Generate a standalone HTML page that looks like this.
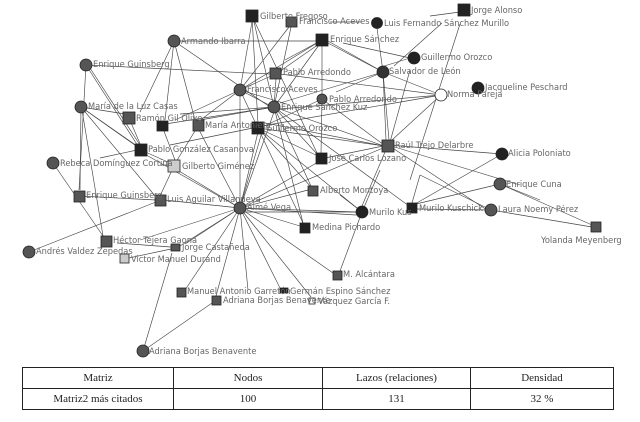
<!DOCTYPE html>
<html><head><meta charset="utf-8"><style>
body{margin:0;background:#fff;width:640px;height:422px;overflow:hidden}
svg{position:absolute;left:0;top:0}
text{font-family:"DejaVu Sans Condensed","Liberation Sans",sans-serif;font-size:9.2px;fill:#666}
table{position:absolute;left:22px;top:367px;width:592px;border-collapse:collapse;font-family:"Liberation Serif",serif;font-size:11px;color:#222}
td{border:1px solid #222;text-align:center;height:20px;padding:0}
</style></head><body>
<svg width="640" height="360" viewBox="0 0 640 360">
<g stroke="#444" stroke-width="0.65" fill="none">
<line x1="174" y1="41" x2="316" y2="41"/>
<line x1="174" y1="41" x2="140" y2="112"/>
<line x1="174" y1="41" x2="165" y2="120"/>
<line x1="174" y1="41" x2="195" y2="120"/>
<line x1="174" y1="41" x2="270" y2="107"/>
<line x1="86" y1="65" x2="270" y2="74"/>
<line x1="86" y1="65" x2="138" y2="146"/>
<line x1="86" y1="65" x2="79" y2="190"/>
<line x1="90" y1="68" x2="140" y2="145"/>
<line x1="81" y1="107" x2="137" y2="146"/>
<line x1="81" y1="107" x2="139" y2="148"/>
<line x1="81" y1="107" x2="125" y2="114"/>
<line x1="81" y1="107" x2="156" y2="197"/>
<line x1="81" y1="107" x2="80" y2="190"/>
<line x1="82" y1="110" x2="103" y2="236"/>
<line x1="53" y1="163" x2="103" y2="236"/>
<line x1="100" y1="158" x2="137" y2="150"/>
<line x1="160" y1="165" x2="170" y2="165"/>
<line x1="141" y1="150" x2="170" y2="163"/>
<line x1="129" y1="118" x2="141" y2="146"/>
<line x1="162" y1="126" x2="175" y2="160"/>
<line x1="198" y1="126" x2="176" y2="162"/>
<line x1="174" y1="166" x2="160" y2="196"/>
<line x1="170" y1="145" x2="253" y2="128"/>
<line x1="79" y1="196" x2="156" y2="200"/>
<line x1="29" y1="252" x2="156" y2="202"/>
<line x1="117" y1="243" x2="171" y2="247"/>
<line x1="124" y1="259" x2="171" y2="249"/>
<line x1="240" y1="208" x2="164" y2="200"/>
<line x1="240" y1="208" x2="174" y2="168"/>
<line x1="240" y1="208" x2="141" y2="152"/>
<line x1="240" y1="208" x2="198" y2="128"/>
<line x1="240" y1="208" x2="258" y2="132"/>
<line x1="240" y1="208" x2="262" y2="132"/>
<line x1="240" y1="208" x2="240" y2="95"/>
<line x1="240" y1="208" x2="274" y2="112"/>
<line x1="240" y1="208" x2="140" y2="240"/>
<line x1="240" y1="208" x2="180" y2="246"/>
<line x1="240" y1="208" x2="185" y2="244"/>
<line x1="240" y1="208" x2="185" y2="290"/>
<line x1="240" y1="208" x2="216" y2="296"/>
<line x1="240" y1="208" x2="248" y2="290"/>
<line x1="240" y1="208" x2="280" y2="288"/>
<line x1="240" y1="208" x2="311" y2="297"/>
<line x1="240" y1="208" x2="300" y2="226"/>
<line x1="240" y1="208" x2="308" y2="190"/>
<line x1="240" y1="208" x2="318" y2="162"/>
<line x1="240" y1="208" x2="383" y2="148"/>
<line x1="240" y1="208" x2="357" y2="212"/>
<line x1="240" y1="208" x2="333" y2="273"/>
<line x1="240" y1="208" x2="356" y2="215"/>
<line x1="143" y1="351" x2="212" y2="303"/>
<line x1="143" y1="351" x2="172" y2="253"/>
<line x1="240" y1="90" x2="252" y2="22"/>
<line x1="240" y1="90" x2="289" y2="27"/>
<line x1="240" y1="90" x2="317" y2="43"/>
<line x1="240" y1="90" x2="271" y2="76"/>
<line x1="240" y1="90" x2="271" y2="106"/>
<line x1="240" y1="90" x2="198" y2="122"/>
<line x1="240" y1="90" x2="175" y2="120"/>
<line x1="240" y1="90" x2="256" y2="124"/>
<line x1="240" y1="90" x2="290" y2="105"/>
<line x1="274" y1="107" x2="254" y2="22"/>
<line x1="274" y1="107" x2="291" y2="27"/>
<line x1="274" y1="107" x2="319" y2="45"/>
<line x1="274" y1="107" x2="276" y2="79"/>
<line x1="274" y1="107" x2="318" y2="155"/>
<line x1="274" y1="107" x2="384" y2="146"/>
<line x1="274" y1="107" x2="311" y2="186"/>
<line x1="274" y1="107" x2="303" y2="223"/>
<line x1="274" y1="107" x2="409" y2="206"/>
<line x1="274" y1="107" x2="180" y2="114"/>
<line x1="274" y1="107" x2="200" y2="120"/>
<line x1="274" y1="107" x2="165" y2="124"/>
<line x1="252" y1="16" x2="258" y2="124"/>
<line x1="252" y1="16" x2="318" y2="155"/>
<line x1="258" y1="128" x2="384" y2="146"/>
<line x1="258" y1="128" x2="318" y2="156"/>
<line x1="258" y1="128" x2="303" y2="223"/>
<line x1="258" y1="128" x2="311" y2="187"/>
<line x1="258" y1="128" x2="362" y2="212"/>
<line x1="285" y1="60" x2="322" y2="40"/>
<line x1="276" y1="74" x2="319" y2="44"/>
<line x1="322" y1="99" x2="322" y2="45"/>
<line x1="322" y1="99" x2="321" y2="154"/>
<line x1="322" y1="99" x2="260" y2="128"/>
<line x1="322" y1="99" x2="384" y2="145"/>
<line x1="280" y1="74" x2="441" y2="95"/>
<line x1="383" y1="72" x2="326" y2="42"/>
<line x1="383" y1="72" x2="328" y2="41"/>
<line x1="383" y1="72" x2="386" y2="140"/>
<line x1="383" y1="72" x2="389" y2="140"/>
<line x1="383" y1="72" x2="436" y2="93"/>
<line x1="383" y1="72" x2="336" y2="92"/>
<line x1="383" y1="72" x2="280" y2="103"/>
<line x1="383" y1="72" x2="377" y2="28"/>
<line x1="378" y1="68" x2="410" y2="58"/>
<line x1="343" y1="43" x2="410" y2="58"/>
<line x1="394" y1="66" x2="442" y2="23"/>
<line x1="410" y1="70" x2="390" y2="142"/>
<line x1="361" y1="22" x2="330" y2="22"/>
<line x1="460" y1="12" x2="430" y2="16"/>
<line x1="460" y1="24" x2="410" y2="180"/>
<line x1="441" y1="95" x2="280" y2="109"/>
<line x1="441" y1="95" x2="392" y2="140"/>
<line x1="441" y1="95" x2="262" y2="126"/>
<line x1="388" y1="145" x2="502" y2="154"/>
<line x1="388" y1="145" x2="487" y2="210"/>
<line x1="388" y1="145" x2="520" y2="185"/>
<line x1="388" y1="145" x2="362" y2="206"/>
<line x1="388" y1="145" x2="325" y2="158"/>
<line x1="260" y1="122" x2="384" y2="146"/>
<line x1="502" y1="154" x2="415" y2="204"/>
<line x1="500" y1="184" x2="416" y2="204"/>
<line x1="500" y1="184" x2="540" y2="200"/>
<line x1="500" y1="184" x2="592" y2="225"/>
<line x1="491" y1="210" x2="592" y2="227"/>
<line x1="491" y1="210" x2="416" y2="209"/>
<line x1="420" y1="175" x2="412" y2="203"/>
<line x1="420" y1="175" x2="491" y2="210"/>
<line x1="362" y1="212" x2="340" y2="271"/>
<line x1="362" y1="212" x2="340" y2="195"/>
<line x1="362" y1="212" x2="380" y2="170"/>
<line x1="242" y1="212" x2="362" y2="212"/>
</g>
<g stroke="#222" stroke-width="0.8">
<rect x="246" y="10" width="12" height="12" fill="#222"/>
<rect x="286" y="17" width="11" height="10" fill="#555"/>
<circle cx="377" cy="23" r="5.5" fill="#222"/>
<rect x="458" y="4" width="12" height="12" fill="#222"/>
<rect x="316" y="34" width="12" height="12" fill="#222"/>
<circle cx="174" cy="41" r="6" fill="#555"/>
<circle cx="414" cy="58" r="6" fill="#222"/>
<circle cx="86" cy="65" r="6" fill="#555"/>
<rect x="270" y="68" width="11" height="11" fill="#555"/>
<circle cx="383" cy="72" r="6" fill="#333"/>
<circle cx="478" cy="88" r="6" fill="#222"/>
<circle cx="441" cy="95" r="6" fill="#fff"/>
<circle cx="240" cy="90" r="6" fill="#555"/>
<circle cx="322" cy="99" r="5" fill="#555"/>
<circle cx="81" cy="107" r="6" fill="#555"/>
<circle cx="274" cy="107" r="6" fill="#555"/>
<rect x="123" y="112" width="12" height="12" fill="#555"/>
<rect x="157" y="121" width="11" height="10" fill="#222"/>
<rect x="193" y="120" width="11" height="11" fill="#555"/>
<rect x="252" y="122" width="12" height="12" fill="#222"/>
<rect x="135" y="144" width="12" height="12" fill="#222"/>
<rect x="382" y="140" width="12" height="12" fill="#555"/>
<circle cx="502" cy="154" r="6" fill="#222"/>
<circle cx="53" cy="163" r="6" fill="#555"/>
<rect x="168" y="160" width="12" height="12" fill="#ccc"/>
<rect x="316" y="153" width="11" height="11" fill="#222"/>
<circle cx="500" cy="184" r="6" fill="#555"/>
<rect x="308" y="186" width="10" height="10" fill="#555"/>
<rect x="74" y="191" width="11" height="11" fill="#555"/>
<rect x="155" y="195" width="11" height="11" fill="#555"/>
<circle cx="240" cy="208" r="6" fill="#555"/>
<circle cx="362" cy="212" r="6" fill="#222"/>
<rect x="407" y="203" width="10" height="10" fill="#222"/>
<circle cx="491" cy="210" r="6" fill="#555"/>
<rect x="591" y="222" width="10" height="10" fill="#555"/>
<rect x="300" y="223" width="10" height="10" fill="#222"/>
<rect x="101" y="236" width="11" height="11" fill="#555"/>
<circle cx="29" cy="252" r="6" fill="#555"/>
<rect x="171" y="244" width="9" height="7" fill="#555"/>
<rect x="120" y="254" width="9" height="9" fill="#ccc"/>
<rect x="333" y="271" width="9" height="9" fill="#555"/>
<rect x="177" y="288" width="9" height="9" fill="#555"/>
<rect x="280" y="288" width="8" height="5" fill="#222"/>
<rect x="212" y="296" width="9" height="9" fill="#555"/>
<rect x="309" y="298" width="6" height="6" fill="#fff"/>
<circle cx="143" cy="351" r="6" fill="#555"/>
</g>
<g>
<text x="260" y="19">Gilberto Fregoso</text>
<text x="299" y="24">Francisco Aceves</text>
<text x="384" y="26">Luis Fernando Sánchez Murillo</text>
<text x="471" y="13">Jorge Alonso</text>
<text x="330" y="42">Enrique Sánchez</text>
<text x="181" y="44">Armando Ibarra</text>
<text x="421" y="60">Guillermo Orozco</text>
<text x="93" y="67">Enrique Guinsberg</text>
<text x="283" y="75">Pablo Arredondo</text>
<text x="389" y="74">Salvador de León</text>
<text x="485" y="90">Jacqueline Peschard</text>
<text x="447" y="97">Norma Pareja</text>
<text x="247" y="92">Francisco Aceves</text>
<text x="329" y="102">Pablo Arredondo</text>
<text x="88" y="109">María de la Luz Casas</text>
<text x="281" y="110">Enrique Sánchez Kuz</text>
<text x="136" y="121">Ramón Gil Olivo</text>
<text x="205" y="128">María Antonieta</text>
<text x="266" y="131">Guillermo Orozco</text>
<text x="148" y="152">Pablo González Casanova</text>
<text x="395" y="148">Raúl Trejo Delarbre</text>
<text x="508" y="156">Alicia Poloniato</text>
<text x="60" y="166">Rebeca Domínguez Cortina</text>
<text x="182" y="169">Gilberto Giménez</text>
<text x="329" y="161">José Carlos Lozano</text>
<text x="506" y="187">Enrique Cuna</text>
<text x="320" y="193">Alberto Montoya</text>
<text x="86" y="198">Enrique Guinsberg</text>
<text x="167" y="202">Luis Aguilar Villanueva</text>
<text x="247" y="210">Aimé Vega</text>
<text x="369" y="215">Murilo Kus</text>
<text x="419" y="211">Murilo Kuschick</text>
<text x="498" y="212">Laura Noemy Pérez</text>
<text x="541" y="243">Yolanda Meyenberg</text>
<text x="312" y="230">Medina Pichardo</text>
<text x="113" y="243">Héctor Tejera Gaona</text>
<text x="36" y="254">Andrés Valdez Zepedas</text>
<text x="182" y="250">Jorge Castañeda</text>
<text x="131" y="262">Victor Manuel Durand</text>
<text x="343" y="277">M. Alcántara</text>
<text x="187" y="294">Manuel Antonio Garretón</text>
<text x="290" y="294">Germán Espino Sánchez</text>
<text x="223" y="303">Adriana Borjas Benavente</text>
<text x="318" y="304">Vázquez García F.</text>
<text x="149" y="354">Adriana Borjas Benavente</text>
</g>
</svg>
<table>
<tr><td style="width:150px">Matriz</td><td style="width:148px">Nodos</td><td style="width:147px">Lazos (relaciones)</td><td>Densidad</td></tr>
<tr><td>Matriz2 más citados</td><td>100</td><td>131</td><td>32 %</td></tr>
</table>
</body></html>
